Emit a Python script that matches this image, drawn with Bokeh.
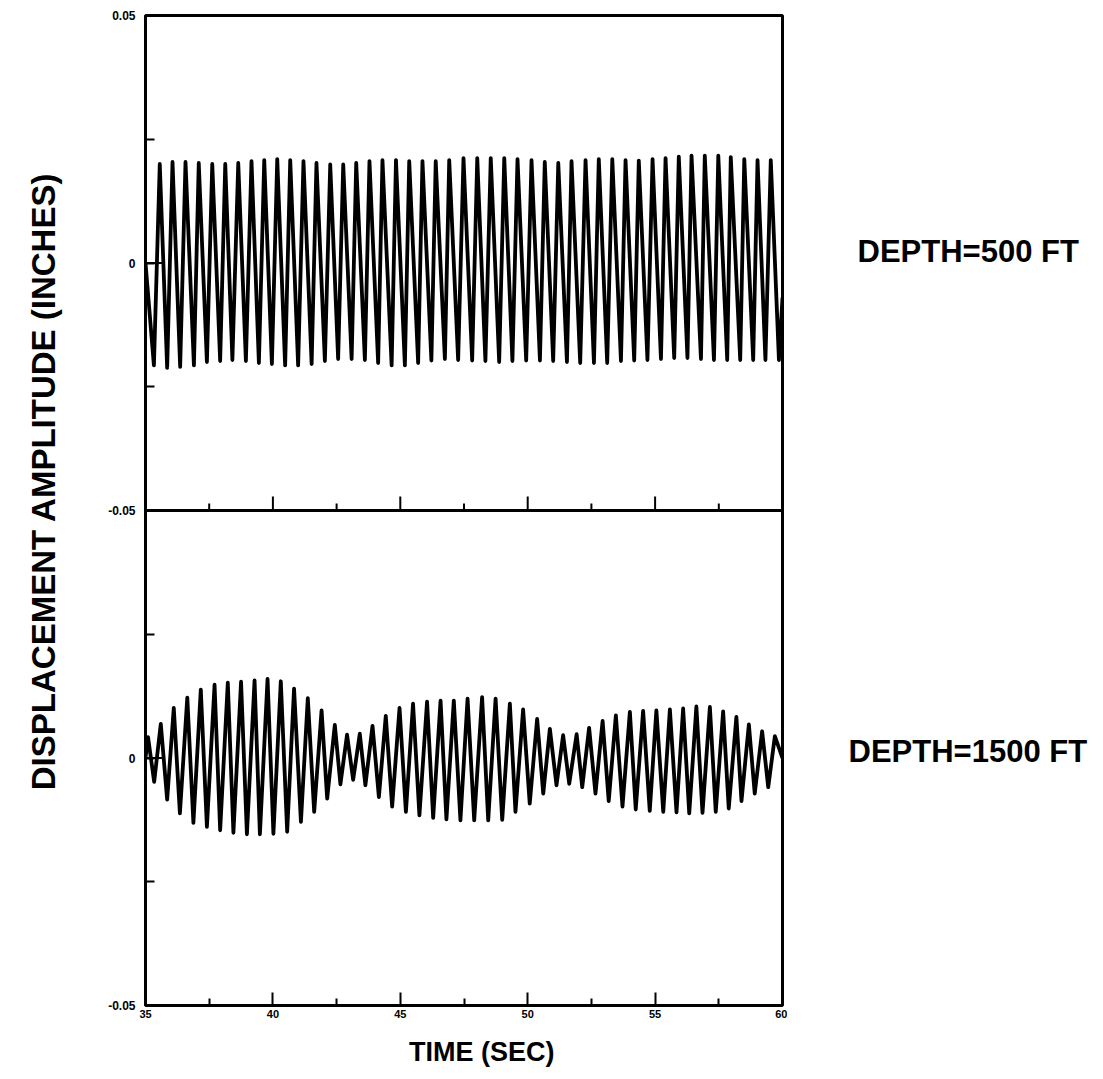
from math import pi

import numpy as np
from bokeh.core.properties import value
from bokeh.embed import file_html
from bokeh.layouts import column, row
from bokeh.models import FixedTicker, Range1d, Span
from bokeh.plotting import figure
from bokeh.resources import INLINE

# ---------------------------------------------------------------------------
# Displacement records (time in seconds, amplitude in inches).
# Each record is stored as its end points plus the times/values of its
# successive crests and troughs.
# ---------------------------------------------------------------------------

# Depth = 500 ft
shallow_ends_t = [35.0, 60.0]
shallow_ends_v = [0.0, -0.0070]
shallow_crest_t = [35.56, 36.06, 36.57, 37.09, 37.62, 38.13, 38.64, 39.16, 39.66, 40.17,
                   40.68, 41.20, 41.71, 42.25, 42.76, 43.27, 43.79, 44.30, 44.83, 45.35,
                   45.87, 46.39, 46.92, 47.48, 48.02, 48.55, 49.08, 49.60, 50.15, 50.67,
                   51.20, 51.72, 52.27, 52.79, 53.32, 53.84, 54.36, 54.90, 55.41, 55.93,
                   56.43, 56.95, 57.48, 57.97, 58.50, 59.02, 59.54]
shallow_crest_v = [0.0200, 0.0204, 0.0204, 0.0202, 0.0200, 0.0200, 0.0202, 0.0206, 0.0208, 0.0210,
                   0.0208, 0.0206, 0.0202, 0.0199, 0.0199, 0.0202, 0.0206, 0.0208, 0.0208, 0.0206,
                   0.0206, 0.0206, 0.0208, 0.0212, 0.0212, 0.0212, 0.0212, 0.0210, 0.0208, 0.0204,
                   0.0202, 0.0206, 0.0208, 0.0210, 0.0210, 0.0208, 0.0207, 0.0210, 0.0212, 0.0215,
                   0.0217, 0.0217, 0.0217, 0.0214, 0.0210, 0.0208, 0.0208]
shallow_trough_t = [35.33, 35.85, 36.36, 36.90, 37.41, 37.93, 38.41, 38.94, 39.45, 39.96,
                    40.48, 40.99, 41.52, 42.04, 42.56, 43.09, 43.61, 44.13, 44.66, 45.18,
                    45.70, 46.22, 46.75, 47.27, 47.82, 48.34, 48.88, 49.40, 49.94, 50.48,
                    51.00, 51.54, 52.06, 52.60, 53.12, 53.66, 54.18, 54.70, 55.23, 55.75,
                    56.27, 56.80, 57.31, 57.83, 58.34, 58.85, 59.33, 59.86]
shallow_trough_v = [-0.0207, -0.0212, -0.0210, -0.0207, -0.0200, -0.0198, -0.0196, -0.0198, -0.0202, -0.0204,
                    -0.0207, -0.0207, -0.0204, -0.0198, -0.0194, -0.0194, -0.0196, -0.0202, -0.0207, -0.0207,
                    -0.0202, -0.0197, -0.0194, -0.0196, -0.0197, -0.0198, -0.0200, -0.0198, -0.0197, -0.0197,
                    -0.0198, -0.0200, -0.0202, -0.0202, -0.0202, -0.0198, -0.0197, -0.0196, -0.0194, -0.0192,
                    -0.0192, -0.0194, -0.0196, -0.0196, -0.0196, -0.0196, -0.0196, -0.0196]

# Depth = 1500 ft
deep_ends_t = [35.0, 60.0]
deep_ends_v = [0.0, 0.0]
deep_crest_t = [35.10, 35.60, 36.11, 36.64, 37.17, 37.71, 38.23, 38.75, 39.28, 39.79,
                40.31, 40.83, 41.37, 41.91, 42.43, 42.91, 43.41, 43.91, 44.43, 44.97,
                45.50, 46.05, 46.58, 47.10, 47.64, 48.21, 48.74, 49.30, 49.82, 50.37,
                50.87, 51.39, 51.92, 52.41, 52.94, 53.46, 54.01, 54.53, 55.05, 55.58,
                56.10, 56.62, 57.15, 57.67, 58.19, 58.68, 59.20, 59.70]
deep_crest_v = [0.0042, 0.0069, 0.0101, 0.0122, 0.0138, 0.0148, 0.0152, 0.0154, 0.0157, 0.0160,
                0.0155, 0.0140, 0.0121, 0.0096, 0.0067, 0.0047, 0.0049, 0.0065, 0.0085, 0.0101,
                0.0110, 0.0114, 0.0116, 0.0116, 0.0120, 0.0123, 0.0120, 0.0110, 0.0098, 0.0079,
                0.0059, 0.0046, 0.0048, 0.0061, 0.0075, 0.0086, 0.0093, 0.0095, 0.0096, 0.0098,
                0.0100, 0.0104, 0.0103, 0.0094, 0.0083, 0.0068, 0.0054, 0.0044]
deep_trough_t = [35.34, 35.85, 36.35, 36.88, 37.41, 37.93, 38.45, 38.98, 39.49, 40.02,
                 40.56, 41.10, 41.62, 42.13, 42.65, 43.15, 43.63, 44.16, 44.68, 45.22,
                 45.75, 46.29, 46.81, 47.36, 47.90, 48.45, 49.00, 49.52, 50.08, 50.61,
                 51.13, 51.63, 52.14, 52.66, 53.18, 53.72, 54.24, 54.79, 55.32, 55.84,
                 56.34, 56.86, 57.38, 57.89, 58.39, 58.91, 59.44]
deep_trough_v = [-0.0048, -0.0084, -0.0112, -0.0131, -0.0139, -0.0146, -0.0151, -0.0154, -0.0154, -0.0153,
                 -0.0149, -0.0129, -0.0109, -0.0082, -0.0053, -0.0044, -0.0055, -0.0079, -0.0098, -0.0109,
                 -0.0116, -0.0121, -0.0124, -0.0126, -0.0126, -0.0126, -0.0125, -0.0109, -0.0092, -0.0072,
                 -0.0055, -0.0052, -0.0059, -0.0072, -0.0087, -0.0098, -0.0104, -0.0107, -0.0109, -0.0110,
                 -0.0112, -0.0111, -0.0109, -0.0102, -0.0087, -0.0072, -0.0059]

# Axis ticks and labels
x_ticks = [35, 40, 45, 50, 55, 60]
x_minor_ticks = [37.5, 42.5, 47.5, 52.5, 57.5]
# the two panels share one vertical axis: upper panel 0.05..-0.05, lower panel below it
y_ticks = [0.05, 0.025, 0.0, -0.025, -0.05, -0.075, -0.1, -0.125, -0.15]
y_tick_text = ["0.05", "", "0", "", "-0.05", "", "0", "", "-0.05"]
panel_titles = ["DEPTH=500 FT", "DEPTH=1500 FT"]
x_title = "TIME (SEC)"
y_title = "DISPLACEMENT AMPLITUDE (INCHES)"


def record(ends_t, ends_v, crest_t, crest_v, trough_t, trough_v):
    t = np.concatenate([ends_t, crest_t, trough_t])
    v = np.concatenate([ends_v, crest_v, trough_v])
    order = np.argsort(t)
    return t[order], v[order]


shallow_t, shallow_v = record(shallow_ends_t, shallow_ends_v, shallow_crest_t,
                              shallow_crest_v, shallow_trough_t, shallow_trough_v)
deep_t, deep_v = record(deep_ends_t, deep_ends_v, deep_crest_t,
                        deep_crest_v, deep_trough_t, deep_trough_v)

FONT = "Liberation Sans"
TOP, BOTTOM = 15, 25          # borders above/below the plotting frame
ROW_H = 1030
LEFT_W, MAIN_W, RIGHT_W = 100, 687, 316

t_range = Range1d(35, 60)
upper_range = Range1d(-0.15, 0.05)      # upper panel occupies the top half
lower_range = Range1d(-0.05, 0.15)      # lower panel occupies the bottom half


def blank(width, height, x_range, **borders):
    f = figure(width=width, height=height, x_range=x_range, y_range=upper_range,
               output_backend="svg", toolbar_location=None, **borders)
    f.extra_y_ranges = {"lower": lower_range}
    f.axis.visible = False
    f.grid.visible = False
    f.outline_line_color = None
    f.background_fill_color = "white"
    f.border_fill_color = "white"
    return f


# ---- main plotting area --------------------------------------------------
p = figure(width=MAIN_W, height=ROW_H, x_range=t_range, y_range=upper_range,
           output_backend="svg", toolbar_location=None,
           min_border_left=45, min_border_right=5,
           min_border_top=TOP, min_border_bottom=BOTTOM)
p.extra_y_ranges = {"lower": lower_range}
p.grid.visible = False
p.background_fill_color = "white"
p.border_fill_color = "white"
p.outline_line_color = "black"
p.outline_line_width = 3

xa = p.xaxis[0]
xa.ticker = FixedTicker(ticks=x_ticks, minor_ticks=x_minor_ticks)
xa.axis_line_width = 3
xa.major_tick_in = 13
xa.major_tick_out = 0
xa.minor_tick_in = 7
xa.minor_tick_out = 0
xa.major_tick_line_width = 2
xa.minor_tick_line_width = 2
xa.major_label_text_font = FONT
xa.major_label_text_font_style = "bold"
xa.major_label_text_font_size = "11px"
xa.major_label_text_color = "black"
xa.major_label_standoff = 4

ya = p.yaxis[0]
ya.ticker = FixedTicker(ticks=y_ticks)
ya.major_label_overrides = dict(zip(y_ticks, y_tick_text))
ya.axis_line_width = 3
ya.major_tick_in = 9
ya.major_tick_out = 0
ya.major_tick_line_width = 2
ya.minor_tick_line_color = None
ya.major_label_text_font = FONT
ya.major_label_text_font_style = "bold"
ya.major_label_text_font_size = "12px"
ya.major_label_text_color = "black"
ya.major_label_standoff = 10

# divider between the two panels with its own upward time ticks
p.add_layout(Span(location=-0.05, dimension="width", line_color="black", line_width=3))
p.ray(x=x_ticks[1:-1], y=-0.05, length=14, angle=pi / 2, length_units="screen",
      line_color="black", line_width=2)
p.ray(x=x_minor_ticks, y=-0.05, length=7, angle=pi / 2, length_units="screen",
      line_color="black", line_width=2)
# longer zero ticks in each panel
p.ray(x=[35], y=[0.0], length=17, angle=0, length_units="screen",
      line_color="black", line_width=2)
p.ray(x=[35], y=[0.0], length=17, angle=0, length_units="screen",
      line_color="black", line_width=2, y_range_name="lower")

# the displacement traces
p.line(shallow_t, shallow_v, line_color="black", line_width=3.8, line_join="round")
p.line(deep_t, deep_v, line_color="black", line_width=3.8, line_join="round",
       y_range_name="lower")

# ---- vertical axis title -------------------------------------------------
left = blank(LEFT_W, ROW_H, Range1d(0, LEFT_W), min_border_left=0, min_border_right=0,
             min_border_top=TOP, min_border_bottom=BOTTOM)
left.text(x=[43], y=[-0.0441], text=[y_title], angle=pi / 2,
          text_font=value(FONT), text_font_style="bold", text_font_size="33px",
          text_align="center", text_baseline="middle", text_color="black")

# ---- panel captions --------------------------------------------------------
right = blank(RIGHT_W, ROW_H, Range1d(0, RIGHT_W), min_border_left=0, min_border_right=0,
              min_border_top=TOP, min_border_bottom=BOTTOM)
right.text(x=[70], y=[0.0023], text=[panel_titles[0]],
           text_font=value(FONT), text_font_style="bold", text_font_size="31px",
           text_align="left", text_baseline="middle", text_color="black")
right.text(x=[61], y=[0.0013], text=[panel_titles[1]], y_range_name="lower",
           text_font=value(FONT), text_font_style="bold", text_font_size="31px",
           text_align="left", text_baseline="middle", text_color="black")

# ---- time axis title -------------------------------------------------------
bottom = figure(width=LEFT_W + MAIN_W + RIGHT_W, height=1079 - ROW_H,
                x_range=t_range, y_range=Range1d(0, 1079 - ROW_H),
                output_backend="svg", toolbar_location=None,
                min_border_left=145, min_border_right=321,
                min_border_top=0, min_border_bottom=0)
bottom.axis.visible = False
bottom.grid.visible = False
bottom.outline_line_color = None
bottom.border_fill_color = "white"
bottom.text(x=[48.2], y=[28], text=[x_title],
            text_font=value(FONT), text_font_style="bold", text_font_size="27px",
            text_align="center", text_baseline="middle", text_color="black")

layout = column(row(left, p, right), bottom)

open("out.html", "w").write(file_html(layout, INLINE))
